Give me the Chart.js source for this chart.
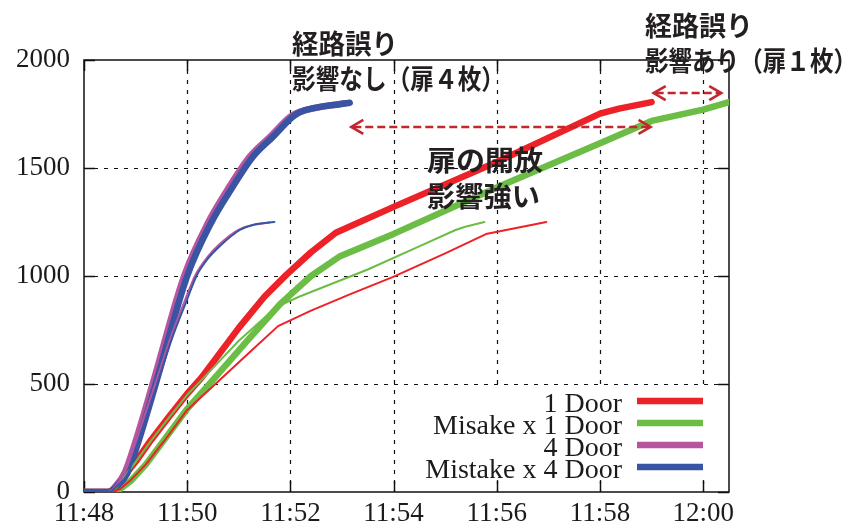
<!DOCTYPE html>
<html>
<head>
<meta charset="utf-8">
<script src="https://cdn.jsdelivr.net/npm/chart.js@4.4.1/dist/chart.umd.min.js"></script>
<style>
  html, body { margin: 0; padding: 0; background: #ffffff; }
  #wrap { width: 859px; height: 526px; }
</style>
</head>
<body>
<div id="wrap"><canvas id="evac" width="859" height="526"></canvas></div>
<script>
// Evacuated people over time. Time is minutes after 11:48.
const startHour = 11, startMinute = 48;
const xTicks = [0, 2, 4, 6, 8, 10, 12];
const yTicks = [0, 500, 1000, 1500, 2000];

// Main runs (thick lines, shown in the legend)
const oneDoor = [[0,0],[0.48,0],[0.6,15],[0.7,45],[0.85,95],[1.0,140],[1.3,241],[1.65,350],[2.0,455],[2.28,530],[3.0,760],[3.5,905],[3.92,1005],[4.4,1110],[4.88,1200],[6.0,1320],[8.0,1528],[10.0,1752],[10.37,1775],[11.0,1805]];
const misakeOneDoor = [[0,0],[0.48,0],[0.58,4],[0.7,14],[0.9,50],[1.2,128],[1.55,240],[2.0,385],[2.5,519],[3.2,710],[3.8,870],[4.4,1000],[4.95,1090],[6.0,1195],[8.0,1410],[10.0,1615],[11.0,1718],[12.0,1770],[12.5,1805]];
const fourDoor = [[0,0],[0.48,0],[0.62,30],[0.79,90],[0.98,220],[1.33,500],[1.94,1000],[2.4,1245],[2.82,1415],[3.22,1555],[3.62,1648],[4.0,1738],[4.18,1760],[5.05,1800]];
const mistakeFourDoor = [[0,0],[0.48,0],[0.65,30],[0.84,87],[1.03,215],[1.39,500],[2.0,1000],[2.45,1240],[2.88,1412],[3.27,1551],[3.66,1644],[4.04,1736],[4.18,1758],[5.15,1802]];

// Second runs (thin lines)
const oneDoorB = [[0,0],[0.48,0],[0.58,4],[0.7,14],[0.9,54],[1.2,128],[1.55,235],[2.0,380],[2.63,519],[3.2,645],[3.76,768],[4.4,840],[5.15,915],[5.98,995],[7.0,1105],[7.79,1194],[8.96,1250]];
const misakeOneDoorB = [[0,0],[0.48,0],[0.6,14],[0.7,42],[0.85,92],[1.0,138],[1.3,238],[1.65,345],[2.0,450],[2.28,519],[3.0,700],[3.73,857],[4.18,905],[5.5,1030],[6.56,1144],[7.2,1213],[7.37,1227],[7.76,1250]];
const fourDoorB = [[0,0],[0.48,0],[0.63,32],[0.8,95],[1.0,230],[1.38,500],[1.7,730],[1.96,890],[2.16,1005],[2.4,1090],[2.63,1148],[3.0,1215],[3.27,1236],[3.6,1248]];
const mistakeFourDoorB = [[0,0],[0.48,0],[0.65,30],[0.86,90],[1.05,225],[1.42,500],[1.72,720],[1.98,880],[2.18,1000],[2.4,1080],[2.63,1138],[3.02,1213],[3.27,1236],[3.69,1250]];

const legendLabels = ['1 Door', 'Misake x 1 Door', '4 Door', 'Mistake x 4 Door'];
const colors = { red: '#ec2228', green: '#6bbd45', purple: '#b7569f', blue: '#3a54a4' };
const legendColors = [colors.red, colors.green, colors.purple, colors.blue];

// Dashed double arrows: [from minute, to minute, at value]
const spanArrows = [[5.18, 10.98, 1690], [11.04, 12.35, 1847]];

// Japanese notes: [text, left px, baseline px, width px, font size]
const notes = [
  ['経路誤り', 292, 54, 106, 27],
  ['影響なし（扉４枚）', 292, 89, 213, 27],
  ['経路誤り', 645, 36, 108, 27],
  ['影響あり（扉１枚）', 645, 71, 212, 27],
  ['扉の開放', 427, 171, 116, 28],
  ['影響強い', 427, 207, 113, 28]
];

function toPoints(arr) { return arr.map(p => ({ x: p[0], y: p[1] })); }

function clockLabel(m) {
  const total = startHour * 60 + startMinute + m;
  const h = Math.floor(total / 60), mm = total % 60;
  return h + ':' + String(mm).padStart(2, '0');
}

function series(data, color, width, order, smooth) {
  const ds = {
    data: toPoints(data),
    borderColor: color,
    backgroundColor: color,
    borderWidth: width,
    pointRadius: 0,
    fill: false,
    tension: 0,
    borderJoinStyle: 'round',
    borderCapStyle: 'round',
    order: order
  };
  if (smooth) ds.cubicInterpolationMode = 'monotone';
  return ds;
}

const serif = '"Liberation Serif", "DejaVu Serif", serif';

// Frame, dashed grid and inward tick marks on all four sides
const framePlugin = {
  id: 'frame',
  beforeDatasetsDraw(chart) {
    const { ctx, chartArea: a, scales } = chart;
    ctx.save();
    ctx.strokeStyle = '#111';
    ctx.lineWidth = 1.2;
    ctx.setLineDash([4, 6]);
    xTicks.forEach(v => {
      const px = Math.round(scales.x.getPixelForValue(v)) + 0.5;
      if (px <= a.left + 1 || px >= a.right - 1) return;
      ctx.beginPath(); ctx.moveTo(px, a.top); ctx.lineTo(px, a.bottom); ctx.stroke();
    });
    yTicks.forEach(v => {
      const py = Math.round(scales.y.getPixelForValue(v)) + 0.5;
      if (py <= a.top + 1 || py >= a.bottom - 1) return;
      ctx.beginPath(); ctx.moveTo(a.left, py); ctx.lineTo(a.right, py); ctx.stroke();
    });
    ctx.setLineDash([]);
    ctx.lineWidth = 1.5;
    const tl = 11;
    xTicks.forEach(v => {
      const px = Math.round(scales.x.getPixelForValue(v)) + 0.5;
      ctx.beginPath();
      ctx.moveTo(px, a.bottom); ctx.lineTo(px, a.bottom - tl);
      ctx.moveTo(px, a.top); ctx.lineTo(px, a.top + tl);
      ctx.stroke();
    });
    yTicks.forEach(v => {
      const py = Math.round(scales.y.getPixelForValue(v)) + 0.5;
      ctx.beginPath();
      ctx.moveTo(a.left, py); ctx.lineTo(a.left + tl, py);
      ctx.moveTo(a.right, py); ctx.lineTo(a.right - tl, py);
      ctx.stroke();
    });
    ctx.strokeRect(a.left, a.top, a.right - a.left, a.bottom - a.top);
    ctx.restore();
  }
};

function drawArrowHead(ctx, x, y, dir) {
  ctx.beginPath();
  ctx.moveTo(x - dir * 12, y - 7);
  ctx.lineTo(x, y);
  ctx.lineTo(x - dir * 12, y + 7);
  ctx.stroke();
}

// Legend box, arrows and notes
const overlayPlugin = {
  id: 'overlay',
  afterDraw(chart) {
    const { ctx, scales } = chart;
    ctx.save();

    // legend
    const keyLeft = 637, keyRight = 703, textRight = 622, firstRow = 401, rowGap = 22;
    ctx.fillStyle = '#ffffff';
    ctx.fillRect(415, firstRow - 13, keyRight + 10 - 415, rowGap * legendLabels.length + 4);
    ctx.font = '28px ' + serif;
    ctx.textAlign = 'right';
    ctx.textBaseline = 'alphabetic';
    legendLabels.forEach((label, i) => {
      const y = firstRow + i * rowGap;
      ctx.fillStyle = '#1b1b1b';
      ctx.fillText(label, textRight, y + 11);
      ctx.strokeStyle = legendColors[i];
      ctx.lineWidth = 6.5;
      ctx.lineCap = 'butt';
      ctx.beginPath(); ctx.moveTo(keyLeft, y); ctx.lineTo(keyRight, y); ctx.stroke();
    });

    // dashed double arrows
    ctx.strokeStyle = '#c1272d';
    ctx.lineWidth = 2.6;
    ctx.lineCap = 'butt';
    spanArrows.forEach(([x0, x1, v]) => {
      const px0 = scales.x.getPixelForValue(x0);
      const px1 = scales.x.getPixelForValue(x1);
      const py = scales.y.getPixelForValue(v);
      ctx.setLineDash([8, 4]);
      ctx.beginPath(); ctx.moveTo(px0 + 2, py); ctx.lineTo(px1 - 2, py); ctx.stroke();
      ctx.setLineDash([]);
      drawArrowHead(ctx, px0, py, -1);
      drawArrowHead(ctx, px1, py, 1);
    });

    // notes
    ctx.fillStyle = '#231f20';
    ctx.textAlign = 'left';
    notes.forEach(([text, x, y, w, size]) => {
      ctx.font = 'bold ' + size + 'px "Noto Sans CJK JP", "Noto Sans", sans-serif';
      const natural = ctx.measureText(text).width;
      ctx.save();
      ctx.translate(x, y);
      ctx.scale(w / natural, 1);
      ctx.fillText(text, 0, 0);
      ctx.restore();
    });

    ctx.restore();
  }
};

new Chart(document.getElementById('evac'), {
  type: 'line',
  data: {
    datasets: [
      series(mistakeFourDoorB, colors.blue, 2, 0, true),
      series(fourDoorB, colors.purple, 2, 1, true),
      series(oneDoorB, colors.red, 2, 2, false),
      series(misakeOneDoorB, colors.green, 2, 3, false),
      series(mistakeFourDoor, colors.blue, 6.5, 4, true),
      series(fourDoor, colors.purple, 6.5, 5, true),
      series(oneDoor, colors.red, 6.5, 6, false),
      series(misakeOneDoor, colors.green, 6.5, 7, false)
    ]
  },
  options: {
    responsive: false,
    animation: false,
    devicePixelRatio: 1,
    layout: { padding: { top: 60, right: 130, left: 0, bottom: 0 } },
    plugins: { legend: { display: false }, tooltip: { enabled: false } },
    scales: {
      x: {
        type: 'linear',
        min: 0,
        max: 12.5,
        afterBuildTicks(scale) { scale.ticks = xTicks.map(v => ({ value: v })); },
        afterFit(scale) { scale.height = 34; },
        grid: { display: false, drawTicks: false },
        border: { display: false },
        ticks: {
          padding: 6,
          color: '#1b1b1b',
          font: { family: serif, size: 27 },
          maxRotation: 0,
          autoSkip: false,
          callback: v => clockLabel(v)
        }
      },
      y: {
        min: 0,
        max: 2000,
        afterBuildTicks(scale) { scale.ticks = yTicks.map(v => ({ value: v })); },
        afterFit(scale) { scale.width = 84; },
        grid: { display: false, drawTicks: false },
        border: { display: false },
        ticks: {
          padding: 14,
          color: '#1b1b1b',
          font: { family: serif, size: 27 },
          callback: v => String(v)
        }
      }
    }
  },
  plugins: [framePlugin, overlayPlugin]
});
</script>
</body>
</html>
